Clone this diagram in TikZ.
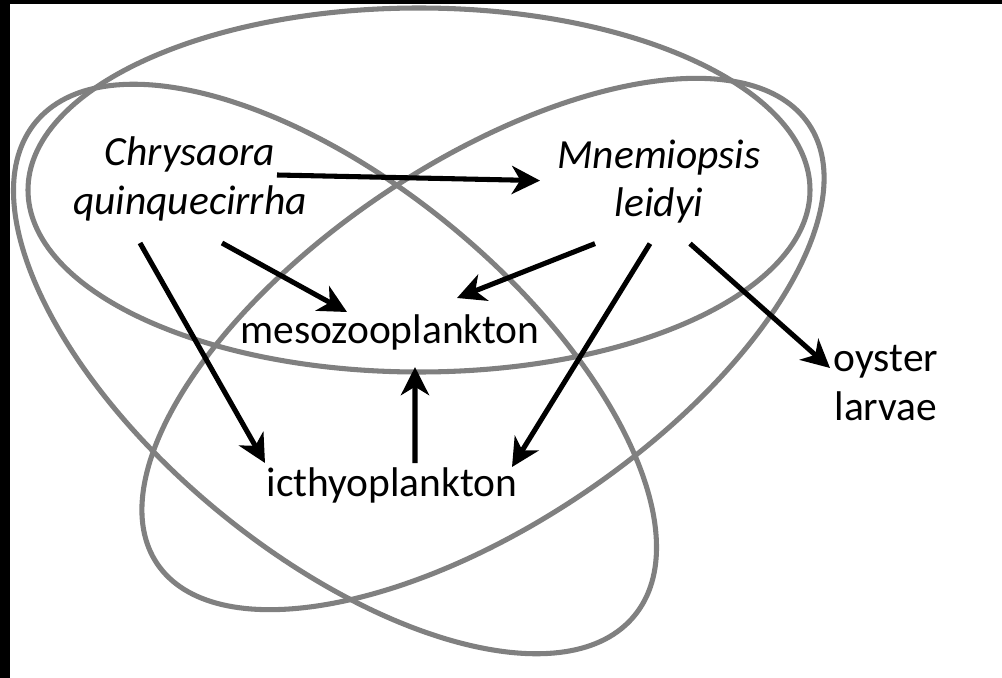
\documentclass[tikz,border=0pt]{standalone}
\usepackage{fontspec}
\setmainfont{Carlito}
\usepackage{tikz}
\usetikzlibrary{arrows.meta}
\definecolor{gris}{RGB}{128,128,128}
\tikzstyle{espece}=[align=center,inner sep=0pt,font=\fontsize{29.5}{34.5}\selectfont\itshape]
\tikzstyle{proie}=[align=center,inner sep=0pt,font=\fontsize{29.5}{35}\selectfont]
\tikzstyle{contour}=[draw=gris,line width=3.6pt]
\tikzstyle{lien}=[-{Stealth[length=20pt,width=20pt,inset=6pt]},line width=3.6pt]

\begin{document}
\begin{tikzpicture}
\fill[black] (0,0) rectangle (25.05,-16.95);
\fill[white] (0.25,-0.1) rectangle (25.05,-16.95);
\useasboundingbox (0,0) rectangle (25.05,-16.95);
%Drawing ellipses
\draw[contour] (10.475,-4.75) ellipse (9.775 and 4.55);
\draw[contour,rotate around={-39.5:(8.375,-9.225)}] (8.375,-9.225) ellipse (9.7 and 4.6);
\draw[contour,rotate around={34:(12.075,-8.6)}] (12.075,-8.6) ellipse (9.825 and 4.5);
%Nodes
\node[espece] (chrys) at (4.75,-4.475) {Chrysaora\\quinquecirrha};
\node[espece] (mnem) at (16.475,-4.54) {Mnemiopsis\\leidyi};
\node[proie] (meso) at (9.75,-8.3) {mesozooplankton};
\node[proie] (icthy) at (9.8,-12.125) {icthyoplankton};
\node[proie] (huitre) at (22.15,-9.575) {oyster\\larvae};
%Drawing Edges
\draw[lien] ([shift={(2.175,0.1)}]chrys.center) -- ([shift={(-2.975,0.025)}]mnem.center);
\draw[lien] ([shift={(0.8,-1.6)}]chrys.center) -- ([shift={(-1.075,0.5)}]meso.center);
\draw[lien] ([shift={(-1.25,-1.6)}]chrys.center) -- ([shift={(-3.175,0.55)}]icthy.center);
\draw[lien] ([shift={(-1.6,-1.55)}]mnem.center) -- ([shift={(1.675,0.85)}]meso.center);
\draw[lien] ([shift={(-0.225,-1.55)}]mnem.center) -- ([shift={(3.0,0.45)}]icthy.center);
\draw[lien] ([shift={(0.775,-1.55)}]mnem.center) -- ([shift={(-1.4,0.375)}]huitre.center);
\draw[lien] ([shift={(0.575,0.55)}]icthy.center) -- ([shift={(0.625,-0.875)}]meso.center);
\end{tikzpicture}
\end{document}
